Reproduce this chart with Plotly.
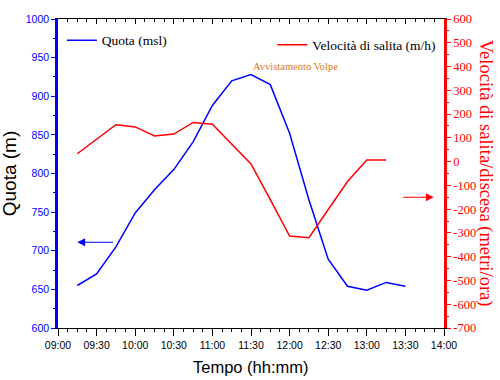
import plotly.graph_objects as go

# ---- data ----
quota_times = ["09:15", "09:30", "09:45", "10:00", "10:15", "10:30", "10:45", "11:00",
               "11:15", "11:30", "11:45", "12:00", "12:15", "12:30", "12:45", "13:00",
               "13:15", "13:30"]
quota_values = [655, 670, 705, 749, 779, 805, 841, 888, 920, 928, 915, 852, 766, 689,
                654, 649, 659, 654]

vel_times = ["09:15", "09:45", "10:00", "10:15", "10:30", "10:45", "11:00", "11:15",
             "11:30", "11:45", "12:00", "12:15", "12:30", "12:45", "13:00", "13:15"]
vel_values = [33, 155, 146, 108, 116, 165, 157, 75, -10, -160, -313, -320, -203, -84, 7, 7]

x_ticks = ["09:00", "09:30", "10:00", "10:30", "11:00", "11:30", "12:00", "12:30",
           "13:00", "13:30", "14:00"]
y2_tickvals = [600, 500, 400, 300, 200, 100, 0, -100, -200, -300, -400, -500, -600, -700]
y2_ticktext = ["600", "500", "400", "300", "200", "100", "0", "-100", "-200", "-300",
               "-400", "-500", "-600", "-700"]

DAY = "2000-01-01 "
def t(s):
    return DAY + s + ":00"

BLUE = "#0000FF"
RED = "#FF0000"
SERIF = "Liberation Serif, Times New Roman, serif"
SANS = "Liberation Sans, Arial, sans-serif"

fig = go.Figure()
fig.add_trace(go.Scatter(x=[t(s) for s in quota_times], y=quota_values, mode="lines",
                         name="Quota (msl)", line=dict(color=BLUE, width=1.5),
                         xaxis="x", yaxis="y", legend="legend"))
fig.add_trace(go.Scatter(x=[t(s) for s in vel_times], y=vel_values, mode="lines",
                         name="Velocità di salita (m/h)", line=dict(color=RED, width=1.5),
                         xaxis="x", yaxis="y2", legend="legend2"))
# invisible trace to carry the top axis
fig.add_trace(go.Scatter(x=[t("09:00")], y=[800], mode="markers", marker=dict(opacity=0),
                         showlegend=False, hoverinfo="skip", xaxis="x2", yaxis="y"))

xrange = [t("09:00"), t("14:00")]
fig.update_layout(
    width=500, height=380,
    margin=dict(l=58, r=56, t=19, b=52),
    paper_bgcolor="white", plot_bgcolor="white",
    xaxis=dict(type="date", range=xrange, tickvals=[t(s) for s in x_ticks], ticktext=x_ticks,
               showgrid=False, zeroline=False, showline=True, linecolor="black", linewidth=1,
               ticks="outside", ticklen=7, tickcolor="black", tickwidth=1,
               minor=dict(dtick=450000, ticks="outside", ticklen=3, tickcolor="black", showgrid=False),
               tickfont=dict(family=SANS, size=10.5, color="black")),
    xaxis2=dict(type="date", range=xrange, overlaying="x", side="top", showticklabels=False,
                tickvals=[t(s) for s in x_ticks], showgrid=False, zeroline=False,
                showline=True, linecolor="black", linewidth=1,
                ticks="inside", ticklen=5, tickcolor="black",
                minor=dict(dtick=450000, ticks="inside", ticklen=3, tickcolor="black", showgrid=False)),
    yaxis=dict(range=[600, 1000], dtick=50, showgrid=False, zeroline=False,
               showline=True, linecolor=BLUE, linewidth=2.5,
               ticks="outside", ticklen=4, tickcolor=BLUE, tickwidth=1,
               minor=dict(dtick=25, ticks="outside", ticklen=2, tickcolor=BLUE, showgrid=False),
               tickfont=dict(family=SANS, size=10.5, color=BLUE)),
    yaxis2=dict(range=[-700, 600], tickvals=y2_tickvals, ticktext=y2_ticktext,
                overlaying="y", side="right", anchor="x",
                showgrid=False, zeroline=False, showline=True, linecolor=RED, linewidth=2.5,
                ticks="outside", ticklen=4, tickcolor=RED, tickwidth=1,
                minor=dict(dtick=50, ticks="outside", ticklen=2, tickcolor=RED, showgrid=False),
                tickfont=dict(family=SERIF, size=12.5, color=RED)),
    legend=dict(x=0.01, y=0.981, xanchor="left", yanchor="top", bgcolor="rgba(0,0,0,0)",
                font=dict(family=SERIF, size=13.5, color="black")),
    legend2=dict(x=0.555, y=0.966, xanchor="left", yanchor="top", bgcolor="rgba(0,0,0,0)",
                 font=dict(family=SERIF, size=13.5, color="black")),
    showlegend=True,
)

annotations = [
    dict(text="Quota (m)", xref="paper", yref="paper", x=-0.125, y=0.5, showarrow=False,
         textangle=-90, font=dict(family=SANS, size=19, color="black"),
         xanchor="center", yanchor="middle"),
    dict(text="Tempo (hh:mm)", xref="paper", yref="paper", x=0.5, y=-0.126, showarrow=False,
         font=dict(family=SANS, size=16.5, color="black"), xanchor="center", yanchor="middle"),
    dict(text="Velocità di salita/discesa (metri/ora)", xref="paper", yref="paper",
         x=1.108, y=0.5, showarrow=False, textangle=90,
         font=dict(family=SERIF, size=18.5, color=RED), xanchor="center", yanchor="middle"),
    dict(text="Avvistamento Volpe", x=t("11:30"), y=938, xref="x", yref="y", showarrow=False,
         xanchor="left", yanchor="middle",
         font=dict(family=SERIF, size=10.5, color="#E07A10")),
    dict(x=t("09:15"), y=711, ax=t("09:44"), ay=711, xref="x", yref="y", axref="x", ayref="y",
         text="", showarrow=True, arrowhead=2, arrowsize=1.3, arrowwidth=1.2, arrowcolor=BLUE),
    dict(x=t("13:52"), y=-150, ax=t("13:27"), ay=-150, xref="x", yref="y2", axref="x", ayref="y2",
         text="", showarrow=True, arrowhead=2, arrowsize=1.3, arrowwidth=1.2, arrowcolor=RED),
]
fig.update_layout(annotations=annotations)

fig.write_html("out.html", config={"displayModeBar": False},
               post_script="document.body.style.margin='0';document.body.style.padding='0';")
